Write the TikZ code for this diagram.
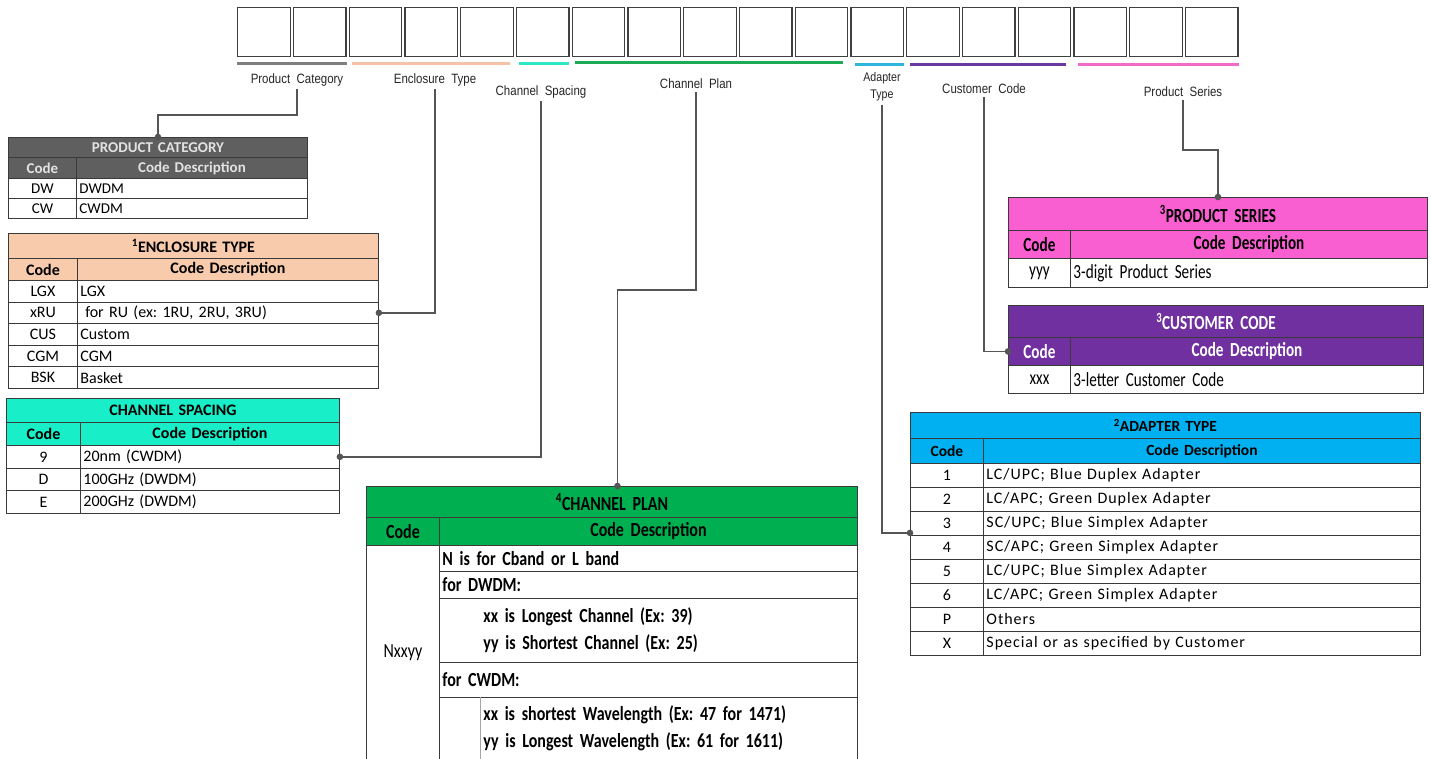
\documentclass[tikz,border=0pt]{standalone}
\usepackage{fontspec}
\setmainfont{Carlito}
\newfontfamily\labfont[FakeStretch=0.85]{Liberation Sans}
\newfontfamily\cpfont[FakeStretch=0.8]{Carlito}
\newfontfamily\psfont[FakeStretch=0.76]{Carlito}
\newfontfamily\adfont[LetterSpace=6]{Carlito}
\protected\def\cpsp{\spaceskip=0.17em plus 0.05em minus 0.03em\relax}
\protected\def\pssp{\spaceskip=0.15em plus 0.05em minus 0.03em\relax}
\definecolor{pcgray}{HTML}{5F5F5F}
\definecolor{pctext}{HTML}{E2E2E2}
\definecolor{peach}{HTML}{F8CBAD}
\definecolor{aqua}{RGB}{24,238,200}
\definecolor{cpgreen}{HTML}{00B050}
\definecolor{pspink}{HTML}{FA5FD2}
\definecolor{ccpurple}{HTML}{7030A0}
\definecolor{adblue}{HTML}{00B0F0}
\definecolor{ulgray}{HTML}{7F7F7F}
\definecolor{ulpeach}{HTML}{F4C2A6}
\definecolor{ulcyan}{HTML}{2AE8C6}
\definecolor{ulgreen}{HTML}{1DAA55}
\definecolor{ulblue}{HTML}{2CB5DD}
\definecolor{ulpurple}{HTML}{6A3AA0}
\definecolor{ulpink}{HTML}{F26BC8}
\definecolor{conncol}{HTML}{555555}
\definecolor{gridcol}{HTML}{3A3A3A}
\frenchspacing
\newcommand\tcell[7]{%
  \pgfmathsetmacro\tcwidth{#4-6}%
  \node[tcellbox,text width=\tcwidth pt,minimum height=#5pt,#6] (#1) at (#2,#3) {#7};%
}
\begin{document}
\begin{tikzpicture}[x=1pt,y=-1pt,
  tcellbox/.style={draw=gridcol,line width=0.9pt,anchor=north west,inner xsep=3pt,inner ysep=0pt,align=left},
  topbox/.style={draw=black!75,line width=1.3pt,anchor=north west,minimum width=52.5pt,minimum height=49pt,inner sep=0pt},
  uline/.style={line width=3pt},
  toplabel/.style={font=\labfont\fontsize{13.5}{16}\selectfont,text=black!85,inner sep=3pt,align=center},
  conn/.style={draw=conncol,line width=1.8pt},
  dot/.style={fill=conncol}
]
\useasboundingbox (0,0) rectangle (1431,758);
\fill[white] (0,0) rectangle (1431,758);

% ---- top boxes
\foreach \i in {0,...,17}{
  \node[topbox] (b\i) at ({237+\i*55.75},7) {};
}
\draw[uline,ulgray]   ([yshift=-6.5pt]b0.south west) -- ([yshift=-6.5pt]b1.south east);
\draw[uline,ulpeach]  ([xshift=3.5pt,yshift=-6pt]b2.south west) -- ([xshift=-4pt,yshift=-6pt]b4.south east);
\draw[uline,ulcyan]   ([xshift=3pt,yshift=-6.5pt]b5.south west) -- ([xshift=-1pt,yshift=-6.5pt]b5.south east);
\draw[uline,ulgreen]  ([xshift=3.5pt,yshift=-5.5pt]b6.south west) -- ([xshift=-5pt,yshift=-5.5pt]b10.south east);
\draw[uline,ulblue]   ([xshift=4.5pt,yshift=-7pt]b11.south west) -- ([xshift=0pt,yshift=-7pt]b11.south east);
\draw[uline,ulpurple] ([xshift=4pt,yshift=-7pt]b12.south west) -- ([xshift=-5pt,yshift=-7pt]b14.south east);
\draw[uline,ulpink]   ([xshift=4.5pt,yshift=-7pt]b15.south west) -- ([xshift=0pt,yshift=-7pt]b17.south east);

% ---- top labels
\node[toplabel] (lPC) at (297,80) {Product\ \ Category};
\node[toplabel] (lET) at (435,80) {Enclosure\ \ Type};
\node[toplabel] (lCS) at (541,92) {Channel\ \ Spacing};
\node[toplabel] (lCP) at (696,84) {Channel\ \ Plan};
\node[toplabel,font=\labfont\fontsize{12.5}{17}\selectfont] (lAT) at (882,87) {Adapter\\Type};
\node[toplabel] (lCC) at (984,89) {Customer\ \ Code};
\node[toplabel] (lPS) at (1183,92) {Product\ \ Series};

% ---- PRODUCT CATEGORY
\begin{scope}[every node/.append style={font=\fontsize{15}{17}\selectfont}]
\tcell{pcT}{8}{137}{299}{20}{fill=pcgray,text=pctext,align=center}{\bfseries PRODUCT CATEGORY}
\tcell{pcHc}{8}{157}{68}{21}{fill=pcgray,text=pctext,align=center}{\bfseries Code}
\tcell{pcHd}{76}{157}{231}{21}{fill=pcgray,text=pctext,align=center}{\bfseries Code Description}
\tcell{pcC1}{8}{178}{68}{20}{align=center}{DW}
\tcell{pcD1}{76}{178}{231}{20}{}{DWDM}
\tcell{pcC2}{8}{198}{68}{20}{align=center}{CW}
\tcell{pcD2}{76}{198}{231}{20}{}{CWDM}
\end{scope}

% ---- ENCLOSURE TYPE
\begin{scope}[every node/.append style={font=\fontsize{16}{18}\selectfont}]
\tcell{enT}{8}{233}{370}{25}{fill=peach,align=center}{\bfseries\textsuperscript{1}ENCLOSURE TYPE}
\tcell{enHc}{8}{258}{69}{22}{fill=peach,align=center}{\bfseries Code}
\tcell{enHd}{77}{258}{301}{22}{fill=peach,align=center}{\bfseries Code Description}
\tcell{enC1}{8}{280}{69}{21.6}{align=center}{LGX}
\tcell{enD1}{77}{280}{301}{21.6}{}{LGX}
\tcell{enC2}{8}{301.6}{69}{21.6}{align=center}{xRU}
\tcell{enD2}{77}{301.6}{301}{21.6}{}{\hspace*{0.3em}for RU (ex: 1RU, 2RU, 3RU)}
\tcell{enC3}{8}{323.2}{69}{21.6}{align=center}{CUS}
\tcell{enD3}{77}{323.2}{301}{21.6}{}{Custom}
\tcell{enC4}{8}{344.8}{69}{21.6}{align=center}{CGM}
\tcell{enD4}{77}{344.8}{301}{21.6}{}{CGM}
\tcell{enC5}{8}{366.4}{69}{21.6}{align=center}{BSK}
\tcell{enD5}{77}{366.4}{301}{21.6}{}{Basket}
\end{scope}

% ---- CHANNEL SPACING
\begin{scope}[every node/.append style={font=\fontsize{16}{18}\selectfont}]
\tcell{csT}{6}{398}{333}{24}{fill=aqua,align=center}{\bfseries CHANNEL SPACING}
\tcell{csHc}{6}{422}{74}{23}{fill=aqua,align=center}{\bfseries Code}
\tcell{csHd}{80}{422}{259}{23}{fill=aqua,align=center}{\bfseries Code Description}
\tcell{csC1}{6}{445}{74}{22.7}{align=center}{9}
\tcell{csD1}{80}{445}{259}{22.7}{}{20nm (CWDM)}
\tcell{csC2}{6}{467.7}{74}{22.7}{align=center}{D}
\tcell{csD2}{80}{467.7}{259}{22.7}{}{100GHz (DWDM)}
\tcell{csC3}{6}{490.4}{74}{22.6}{align=center}{E}
\tcell{csD3}{80}{490.4}{259}{22.6}{}{200GHz (DWDM)}
\end{scope}

% ---- CHANNEL PLAN
\begin{scope}[every node/.append style={font=\cpfont\fontsize{20}{27}\selectfont\cpsp}]
\tcell{cpT}{366}{486}{491}{31}{fill=cpgreen,align=center}{\bfseries\textsuperscript{4}CHANNEL PLAN}
\tcell{cpHc}{366}{517}{73}{28}{fill=cpgreen,align=center}{\bfseries Code}
\tcell{cpHd}{439}{517}{418}{28}{fill=cpgreen,align=center}{\bfseries Code Description}
\tcell{cpC}{366}{545}{73}{214}{align=center}{Nxxyy}
\tcell{cpD1}{439}{545}{418}{26}{}{\bfseries N is for Cband or L band}
\tcell{cpD2}{439}{571}{418}{27}{}{\bfseries for DWDM:}
\tcell{cpD3}{439}{598}{418}{64}{}{\bfseries\hspace*{41pt}xx is Longest Channel (Ex: 39)\\\hspace*{41pt}yy is Shortest Channel (Ex: 25)}
\tcell{cpD4}{439}{662}{418}{35}{}{\bfseries for CWDM:}
\tcell{cpD5}{439}{697}{418}{62}{}{\bfseries\hspace*{41pt}xx is shortest Wavelength (Ex: 47 for 1471)\\\hspace*{41pt}yy is Longest Wavelength (Ex: 61 for 1611)}
\end{scope}
\draw[black!35,line width=0.7pt] ([xshift=41pt]cpD5.north west) -- ([xshift=41pt]cpD5.south west);

% ---- PRODUCT SERIES
\begin{scope}[every node/.append style={font=\psfont\fontsize{20}{21}\selectfont\pssp}]
\tcell{psT}{1008}{197}{419}{33}{fill=pspink,align=center}{\bfseries\textsuperscript{3}PRODUCT SERIES}
\tcell{psHc}{1008}{230}{62}{28}{fill=pspink,align=center}{\bfseries Code}
\tcell{psHd}{1070}{230}{357}{28}{fill=pspink,align=center}{\bfseries Code Description}
\tcell{psC1}{1008}{258}{62}{29}{align=center}{yyy}
\tcell{psD1}{1070}{258}{357}{29}{}{3-digit Product Series}
\end{scope}

% ---- CUSTOMER CODE
\begin{scope}[every node/.append style={font=\psfont\fontsize{20}{21}\selectfont\pssp}]
\tcell{ccT}{1008}{305}{415}{32}{fill=ccpurple,text=white,align=center}{\bfseries\textsuperscript{3}CUSTOMER CODE}
\tcell{ccHc}{1008}{337}{62}{28}{fill=ccpurple,text=white,align=center}{\bfseries Code}
\tcell{ccHd}{1070}{337}{353}{28}{fill=ccpurple,text=white,align=center}{\bfseries Code Description}
\tcell{ccC1}{1008}{365}{62}{28}{align=center}{xxx}
\tcell{ccD1}{1070}{365}{353}{28}{}{3-letter Customer Code}
\end{scope}

% ---- ADAPTER TYPE
\begin{scope}[every node/.append style={font=\fontsize{15.5}{17}\selectfont}]
\tcell{adT}{910}{412}{510}{26}{fill=adblue,align=center}{\bfseries\textsuperscript{2}ADAPTER TYPE}
\tcell{adHc}{910}{438}{73}{25}{fill=adblue,align=center}{\bfseries Code}
\tcell{adHd}{983}{438}{437}{25}{fill=adblue,align=center}{\bfseries Code Description}
\end{scope}
\begin{scope}[every node/.append style={font=\adfont\fontsize{16}{17}\selectfont}]
\tcell{adC1}{910}{463}{73}{24}{align=center}{1}
\tcell{adD1}{983}{463}{437}{24}{}{LC/UPC; Blue Duplex Adapter}
\tcell{adC2}{910}{487}{73}{24}{align=center}{2}
\tcell{adD2}{983}{487}{437}{24}{}{LC/APC; Green Duplex Adapter}
\tcell{adC3}{910}{511}{73}{24}{align=center}{3}
\tcell{adD3}{983}{511}{437}{24}{}{SC/UPC; Blue Simplex Adapter}
\tcell{adC4}{910}{535}{73}{24}{align=center}{4}
\tcell{adD4}{983}{535}{437}{24}{}{SC/APC; Green Simplex Adapter}
\tcell{adC5}{910}{559}{73}{24}{align=center}{5}
\tcell{adD5}{983}{559}{437}{24}{}{LC/UPC; Blue Simplex Adapter}
\tcell{adC6}{910}{583}{73}{24}{align=center}{6}
\tcell{adD6}{983}{583}{437}{24}{}{LC/APC; Green Simplex Adapter}
\tcell{adC7}{910}{607}{73}{24}{align=center}{P}
\tcell{adD7}{983}{607}{437}{24}{}{Others}
\tcell{adC8}{910}{631}{73}{24}{align=center}{X}
\tcell{adD8}{983}{631}{437}{24}{}{Special or as specified by Customer}
\end{scope}

% ---- connectors
\coordinate (cpIn) at ([xshift=5.5pt]cpT.north);
\coordinate (adIn) at ([yshift=3pt]adC3.south west);
\draw[conn] (lPC.south) -- (lPC.south |- 0,115) -| (pcT.north);
\draw[conn] (lET.south) |- (enD2.east);
\draw[conn] (lCS.south) |- (csD1.east);
\draw[conn] (lCP.south) -- (lCP.south |- 0,290) -| (cpIn);
\draw[conn] (lAT.south) |- (adIn);
\draw[conn] (lCC.south) |- (ccHc.west);
\draw[conn] (lPS.south) -- (lPS.south |- 0,150) -| (psT.north);
\fill[dot] (pcT.north) circle (3.3pt);
\fill[dot] (enD2.east) circle (3.3pt);
\fill[dot] (csD1.east) circle (3.3pt);
\fill[dot] (cpIn) circle (3.3pt);
\fill[dot] (adIn) circle (3.3pt);
\fill[dot] (ccHc.west) circle (3.3pt);
\fill[dot] (psT.north) circle (3.3pt);
\end{tikzpicture}
\end{document}
